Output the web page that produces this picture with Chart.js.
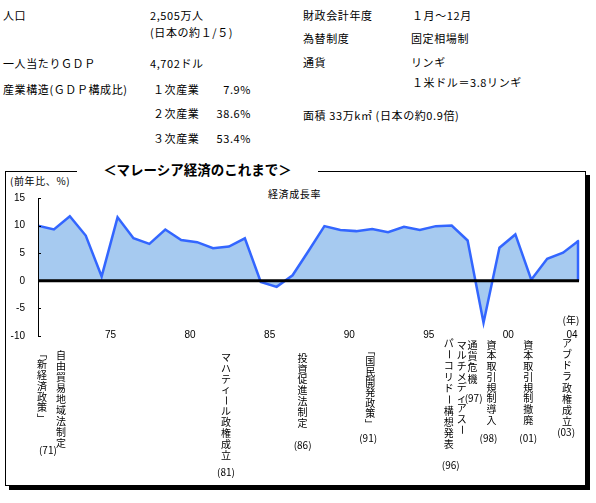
<!DOCTYPE html>
<html><head><meta charset="utf-8">
<script src="https://cdn.jsdelivr.net/npm/chart.js@4/dist/chart.umd.min.js"></script>
<style>
body{margin:0;width:596px;height:503px;position:relative;overflow:hidden;background:#fff;font-family:"Noto Sans CJK JP","Noto Sans",sans-serif;color:#000}
.t{position:absolute;white-space:nowrap;font-size:11px;line-height:14px;letter-spacing:0.6px}
#frame{position:absolute;left:5px;top:171px;width:579px;height:313px;border:1px solid #000;box-shadow:4px 4px 0 #000}
#title{position:absolute;left:77px;top:159px;width:241px;height:20px;line-height:20px;text-align:center;background:#fff;font-weight:bold;font-size:13.5px;z-index:3}
#c{position:absolute;left:0;top:0;z-index:2}
</style></head><body>
<div class="t" style="left:3px;top:8px">人口</div>
<div class="t" style="left:150px;top:8px">2,505万人</div>
<div class="t" style="left:150px;top:25px">(日本の約１/５)</div>
<div class="t" style="left:3px;top:56px">一人当たりＧＤＰ</div>
<div class="t" style="left:150px;top:56px">4,702ドル</div>
<div class="t" style="left:3px;top:82px">産業構造(ＧＤＰ構成比)</div>
<div class="t" style="left:153px;top:82px">１次産業</div>
<div class="t" style="left:201px;top:82px;width:50px;text-align:right">7.9%</div>
<div class="t" style="left:153px;top:106px">２次産業</div>
<div class="t" style="left:201px;top:106px;width:50px;text-align:right">38.6%</div>
<div class="t" style="left:153px;top:131px">３次産業</div>
<div class="t" style="left:201px;top:131px;width:50px;text-align:right">53.4%</div>
<div class="t" style="left:303px;top:8px">財政会計年度</div>
<div class="t" style="left:412px;top:8px">１月～12月</div>
<div class="t" style="left:303px;top:31px">為替制度</div>
<div class="t" style="left:411px;top:31px">固定相場制</div>
<div class="t" style="left:303px;top:55px">通貨</div>
<div class="t" style="left:411px;top:55px">リンギ</div>
<div class="t" style="left:412px;top:75px">１米ドル＝3.8リンギ</div>
<div class="t" style="left:303px;top:108px">面積 33万k㎡ (日本の約0.9倍)</div>
<div id="frame"></div>
<div id="title">＜マレーシア経済のこれまで＞</div>
<div class="t" style="left:10px;top:174px;font-size:10px">(前年比、%)</div>
<div class="t" style="left:268px;top:187px;font-size:10px">経済成長率</div>
<canvas id="c" width="596" height="503"></canvas>
<script>
// ---- data ----
const years = [1970,1971,1972,1973,1974,1975,1976,1977,1978,1979,1980,1981,1982,1983,1984,1985,1986,1987,1988,1989,1990,1991,1992,1993,1994,1995,1996,1997,1998,1999,2000,2001,2002,2003,2004];
const growth = [10.0,9.3,11.7,8.2,0.8,11.5,7.7,6.7,9.3,7.4,7.0,5.9,6.2,7.7,-0.2,-1.1,1.0,5.4,9.9,9.2,9.0,9.4,8.8,9.8,9.2,9.9,10.0,7.3,-7.6,6.0,8.4,0.2,4.0,5.1,7.3];
const xTickYears = [1975,1980,1985,1990,1995,2000,2004];
const xTickLabels = ['75','80','85','90','95','00','04'];
const yTicks = [-10,-5,0,5,10,15];
const events = [
  {year:1971, cols:[{dx:-12, top:354, step:10.7, text:'「新経済政策」'},{dx:7, top:355, step:11, text:'自由貿易地域法制定'}], label:'(71)', ldx:-6, ly:450},
  {year:1981, cols:[{dx:13, top:357, step:10.9, text:'マハティール政権成立'}], label:'(81)', ldx:13, ly:472},
  {year:1986, cols:[{dx:10, top:358, step:10.8, text:'投資促進法制定'}], label:'(86)', ldx:10, ly:445},
  {year:1991, cols:[{dx:-2, top:351, step:10.4, text:'「国民開発政策」'}], label:'(91)', ldx:-4, ly:438},
  {year:1996, cols:[{dx:10, top:345, step:10.6, text:'マルチメディアスー'},{dx:-3, top:343, step:11.3, text:'パーコリドー構想発表'}], label:'(96)', ldx:-1, ly:465},
  {year:1997, cols:[{dx:5, top:345, step:11.3, text:'通貨危機'}], label:'(97)', ldx:6, ly:398},
  {year:1998, cols:[{dx:8, top:345, step:10.7, text:'資本取引規制導入'}], label:'(98)', ldx:5, ly:438},
  {year:2001, cols:[{dx:-3, top:345, step:10.7, text:'資本取引規制撤廃'}], label:'(01)', ldx:-3, ly:438},
  {year:2003, cols:[{dx:4, top:343, step:11.2, text:'アブドラ政権成立'}], label:'(03)', ldx:3, ly:432}
];

const CJK = '"Noto Sans CJK JP", sans-serif';
const overlay = {
  id:'overlay',
  afterDatasetsDraw(chart){
    const ctx = chart.ctx, xs = chart.scales.x, ys = chart.scales.y, ca = chart.chartArea;
    const y0 = ys.getPixelForValue(0);
    ctx.save();
    // right edge of area outline
    const lastX = xs.getPixelForValue(years[years.length-1]);
    const lastY = ys.getPixelForValue(growth[growth.length-1]);
    ctx.strokeStyle = '#3366FF'; ctx.lineWidth = 2.5;
    ctx.beginPath(); ctx.moveTo(lastX-1, lastY); ctx.lineTo(lastX-1, y0); ctx.stroke();
    // zero line
    ctx.strokeStyle = '#000'; ctx.lineWidth = 3;
    ctx.beginPath(); ctx.moveTo(ca.left, y0); ctx.lineTo(ca.right, y0); ctx.stroke();
    // y axis line + inward ticks
    ctx.lineWidth = 1;
    ctx.beginPath(); ctx.moveTo(ca.left+0.5, ca.top); ctx.lineTo(ca.left+0.5, ca.bottom); ctx.stroke();
    yTicks.forEach(v=>{ const py = Math.round(ys.getPixelForValue(v))+0.5;
      ctx.beginPath(); ctx.moveTo(ca.left, py); ctx.lineTo(ca.left+3, py); ctx.stroke(); });
    // x labels
    ctx.fillStyle = '#000';
    ctx.font = '10px "Liberation Sans", Arial, sans-serif';
    ctx.textAlign = 'center'; ctx.textBaseline = 'middle';
    const yl = ys.getPixelForValue(-10) - 1;
    xTickYears.forEach((yr,i)=> ctx.fillText(xTickLabels[i], xs.getPixelForValue(yr)-7, yl));
    ctx.font = '10px ' + CJK;
    ctx.fillText('(年)', 571, 320);
    // events (vertical text)
    events.forEach(ev=>{
      const bx = xs.getPixelForValue(ev.year);
      ev.cols.forEach(c=>{
        const cx = bx + c.dx;
        [...c.text].forEach((ch,k)=>{
          const cy = c.top + k*c.step;
          ctx.save(); ctx.translate(cx, cy);
          if ('ー「」'.includes(ch)) ctx.rotate(Math.PI/2);
          ctx.fillText(ch, 0, 0);
          ctx.restore();
        });
      });
      ctx.fillText(ev.label, bx + ev.ldx, ev.ly);
    });
    ctx.restore();
  }
};

new Chart(document.getElementById('c'), {
  type:'line',
  data:{ datasets:[{
    data: years.map((y,i)=>({x:y, y:growth[i]})),
    borderColor:'#3366FF', borderWidth:2.5, backgroundColor:'#A6CAF0',
    fill:'origin', pointRadius:0, tension:0
  }]},
  options:{
    responsive:false, animation:false, devicePixelRatio:1,
    layout:{padding:{left:0, top:198, right:17, bottom:167}},
    plugins:{legend:{display:false}, tooltip:{enabled:false}},
    scales:{
      x:{type:'linear', min:1970, max:2004, display:false},
      y:{min:-10, max:15,
         ticks:{stepSize:5, color:'#000', padding:13, font:{size:10, family:'"Liberation Sans", Arial, sans-serif'}},
         grid:{display:false, drawTicks:false},
         border:{display:true, color:'#000'},
         afterFit(s){ s.width = 38; }}
    }
  },
  plugins:[overlay]
});
</script>
</body></html>
